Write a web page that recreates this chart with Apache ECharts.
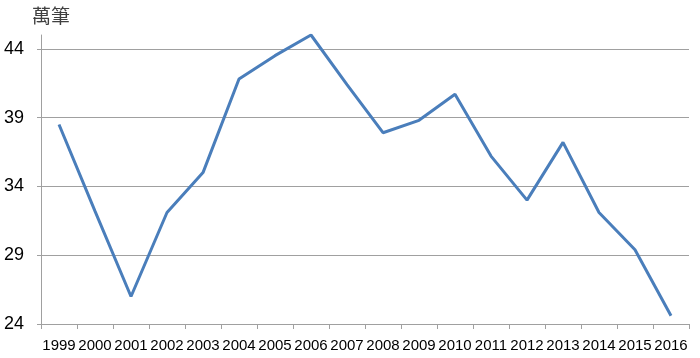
<!DOCTYPE html>
<html>
<head>
<meta charset="utf-8">
<script src="https://cdn.jsdelivr.net/npm/echarts@6/dist/echarts.min.js"></script>
<style>
  html, body { margin: 0; padding: 0; background: #fff; }
  #main { width: 700px; height: 358px; }
</style>
</head>
<body>
<div id="main"></div>
<script>
// years on the x axis
var years = ['1999', '2000', '2001', '2002', '2003', '2004', '2005', '2006', '2007',
  '2008', '2009', '2010', '2011', '2012', '2013', '2014', '2015', '2016'];
// values in 萬筆
var counts = [38.5, 32.2, 26.0, 32.1, 35.0, 41.8, 43.5, 45.0, 41.4,
  37.9, 38.8, 40.7, 36.2, 33.0, 37.2, 32.1, 29.4, 24.6];
var unitLabel = '萬筆';

var myChart = echarts.init(document.getElementById('main'));

var option = {
  animation: false,
  title: {
    text: unitLabel,
    left: 27,
    top: 1,
    textStyle: {
      fontFamily: 'Noto Sans CJK TC',
      fontSize: 19,
      fontWeight: 'normal',
      color: '#404040'
    }
  },
  grid: {
    left: 41,
    right: 11,
    top: 35,
    bottom: 34,
    containLabel: false
  },
  xAxis: {
    type: 'category',
    data: years,
    boundaryGap: true,
    axisLine: { lineStyle: { color: '#a0a0a0', width: 1 } },
    axisTick: { show: true, length: 5, interval: 0, lineStyle: { color: '#a0a0a0' } },
    axisLabel: {
      interval: 0,
      margin: 14,
      color: '#000',
      fontFamily: 'Liberation Sans',
      fontSize: 15
    }
  },
  yAxis: {
    type: 'value',
    min: 24,
    max: 45,
    interval: 5,
    axisLine: { show: true, lineStyle: { color: '#a0a0a0', width: 1 } },
    axisTick: { show: true, length: 4, lineStyle: { color: '#a0a0a0' } },
    axisLabel: {
      showMaxLabel: false,
      margin: 17,
      color: '#000',
      fontFamily: 'Liberation Sans',
      fontSize: 18
    },
    splitLine: {
      showMaxLine: false,
      lineStyle: { color: '#a0a0a0', width: 1 }
    }
  },
  series: [{
    type: 'line',
    data: counts,
    symbol: 'none',
    lineStyle: { color: '#4a7ebb', width: 3 }
  }]
};
myChart.setOption(option);
</script>
</body>
</html>
